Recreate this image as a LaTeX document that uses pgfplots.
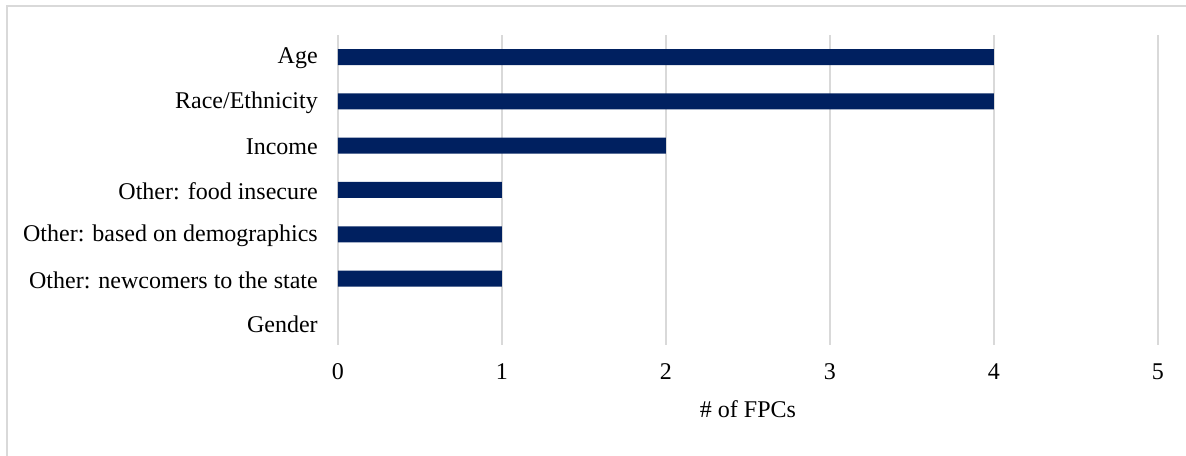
\documentclass[border=0pt]{standalone}
\usepackage{fontspec}
\setmainfont{Liberation Serif}
\usepackage{pgfplots}
\pgfplotsset{compat=1.18}
\definecolor{barnavy}{HTML}{002060}
\definecolor{gridgray}{HTML}{D9D9D9}

\begin{document}
\begin{tikzpicture}[x=0.75pt,y=0.75pt]
\fontsize{18pt}{21pt}\selectfont
% picture area in px relative to the axis' lower left corner
\useasboundingbox (-338,-111) rectangle (848,345);
\draw[gridgray,line width=1.5pt] (-331,-111) -- (-331,339) -- (848,339);
\begin{axis}[
  at={(0,0)}, anchor=south west,
  scale only axis,
  width=615pt, height=232.5pt,
  xbar, bar width=12pt,
  xmin=0, xmax=5,
  ymin=-0.5, ymax=6.5,
  xtick={0,1,2,3,4,5},
  ytick={0,1,2,3,4,5,6},
  yticklabels={Gender,Other: newcomers to the state,Other: based on demographics,Other: food insecure,Income,Race/Ethnicity,Age},
  axis line style={draw=none},
  major tick length=0pt,
  xmajorgrids,
  grid style={gridgray,line width=1.1pt},
  tick label style={font=\fontsize{18pt}{21pt}\selectfont},
  label style={font=\fontsize{18pt}{21pt}\selectfont},
  /pgf/number format/assume math mode=true,
  xticklabel style={yshift=-8pt},
  yticklabel style={xshift=-9pt, yshift=-1pt},
  xlabel={\# of FPCs},
  xlabel style={yshift=-3pt},
]
% Gender has the value 0 and so draws no bar
\addplot[fill=barnavy, draw=none] coordinates {
(1,1) (1,2) (1,3) (2,4) (4,5) (4,6)};
\end{axis}
\end{tikzpicture}
\end{document}
